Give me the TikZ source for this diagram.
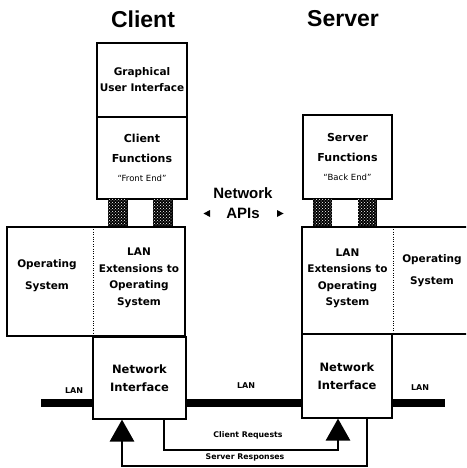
\documentclass[tikz,border=0pt]{standalone}
\usepackage{fontspec}
\setmainfont{DejaVu Sans}
\newfontfamily\headfont{Liberation Sans}
\usepackage{tikz}
\usetikzlibrary{arrows.meta,patterns}

\tikzset{
  box/.style={draw, line width=1.1pt, fill=white, inner sep=0pt, align=center},
  txt/.style={inner sep=0pt, align=center},
  frame/.style={line width=1.1pt},
  pillar/.style={draw, line width=0.8pt, fill=black, minimum height=28pt, inner sep=0pt,
    postaction={pattern=crosshatch dots, pattern color=white}},
  title/.style={font=\headfont\bfseries\fontsize{23}{26}\selectfont},
  apifont/.style={font=\headfont\bfseries\fontsize{15}{17}\selectfont},
  flow/.style={line width=2.8pt, -{Triangle[length=22pt,width=24pt]}},
  lan/.style={line width=8pt},
  small/.style={font=\bfseries\fontsize{8}{9}\selectfont, inner sep=0pt},
}

\begin{document}
\begin{tikzpicture}[x=1pt,y=-1pt]
\useasboundingbox (0,0) rectangle (466,468);
\clip (0,0) rectangle (466,468);

% titles
\node[title] (clienttitle) at (143,19) {Client};
\node[title] (servertitle) at (343,19) {Server};

% client side
\node[box, minimum width=90pt, minimum height=74pt,
  font=\bfseries\fontsize{10.5}{16}\selectfont] (gui) at (142,80) {Graphical\\User Interface};
\node[box, minimum width=90pt, minimum height=82pt,
  font=\bfseries\fontsize{11}{19.5}\selectfont] (cfun) at (142,158)
  {Client\\Functions\\{\mdseries\fontsize{8.5}{9}\selectfont “Front End”}};
\node[pillar, minimum width=19pt] (cpilA) at (117.5,213) {};
\node[pillar, minimum width=19pt] (cpilB) at (162.5,213) {};
\draw[frame] (7,227) rectangle (185,336);
\draw[dotted] (93,227) -- (93,336);
\node[txt, font=\bfseries\fontsize{10.5}{22}\selectfont] (cos) at (47,276) {Operating\\System};
\node[txt, font=\bfseries\fontsize{10.5}{16.5}\selectfont] (clan) at (139,278)
  {LAN\\Extensions to\\Operating\\System};

% server side
\node[box, minimum width=89pt, minimum height=84pt,
  font=\bfseries\fontsize{11}{19.5}\selectfont] (sfun) at (347.5,157)
  {Server\\Functions\\{\mdseries\fontsize{8.5}{9}\selectfont “Back End”}};
\node[pillar, minimum width=18pt] (spilA) at (322.5,213) {};
\node[pillar, minimum width=18pt] (spilB) at (367,213) {};
\draw[frame] (302,227) rectangle (480,334);
\draw[dotted] (393,227) -- (393,334);
\node[txt, font=\bfseries\fontsize{10.5}{16.5}\selectfont] (slan) at (347.5,278.5)
  {LAN\\Extensions to\\Operating\\System};
\node[txt, font=\bfseries\fontsize{10.5}{22}\selectfont] (sos) at (432,271) {Operating\\System};

% network APIs
\node[apifont] (apinet) at (243,193) {Network};
\node[apifont] (apis) at (243,213) {APIs};
\fill (203.5,213.5) -- (210,210) -- (210,217) -- cycle;
\fill (283.5,213.5) -- (277,210) -- (277,217) -- cycle;

% LAN cable
\coordinate (lanw) at (41,403);
\coordinate (lane) at (445,403);
\draw[lan] (lanw) -- (lane);
\node[small] (lanl) at (74,391) {LAN};
\node[small] (lanm) at (246,386) {LAN};
\node[small] (lanr) at (420,388) {LAN};

% network interfaces
\node[box, minimum width=93pt, minimum height=82pt,
  font=\bfseries\fontsize{11.5}{18}\selectfont] (cni) at (139.5,378) {Network\\Interface};
\node[box, minimum width=90pt, minimum height=84pt,
  font=\bfseries\fontsize{11.5}{18}\selectfont] (sni) at (347,376) {Network\\Interface};

% requests and responses
\coordinate (reqA) at (164,450);
\coordinate (reqB) at (338,450);
\draw[flow] (cni.south -| reqA) -- (reqA) -- (reqB) -- (sni.south -| reqB);
\coordinate (resA) at (367,466);
\coordinate (resB) at (122,466);
\draw[flow] (sni.south -| resA) -- (resA) -- (resB) -- (cni.south -| resB);
\node[small, font=\bfseries\fontsize{7.8}{9}\selectfont] (req) at (248,435) {Client Requests};
\node[small, font=\bfseries\fontsize{7.8}{9}\selectfont] (res) at (245,457) {Server Responses};
\end{tikzpicture}
\end{document}
